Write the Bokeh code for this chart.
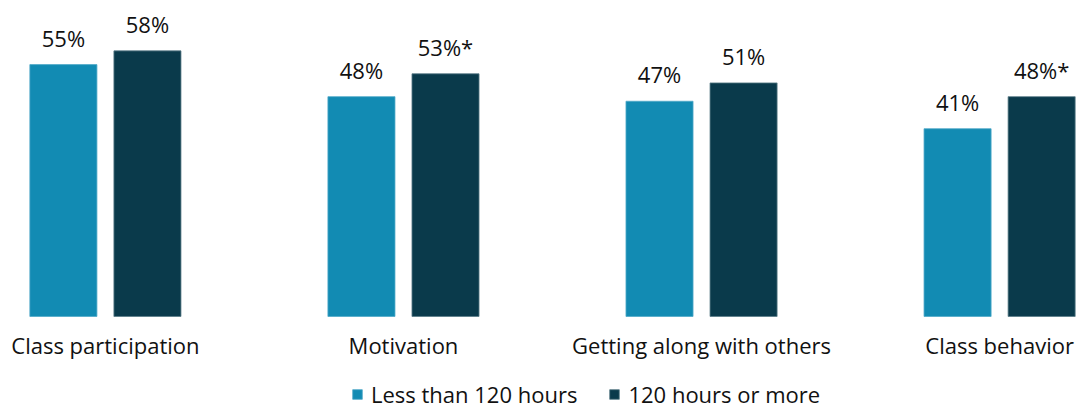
from bokeh.plotting import figure
from bokeh.models import ColumnDataSource, Range1d, Legend, LegendItem
from bokeh.core.properties import value
from bokeh.embed import file_html
from bokeh.resources import INLINE

categories = ["Class participation", "Motivation", "Getting along with others", "Class behavior"]
less_120 = [55, 48, 47, 41]
more_120 = [58, 53, 51, 48]
less_labels = ["55%", "48%", "47%", "41%"]
more_labels = ["58%", "53%*", "51%", "48%*"]
series_names = ["Less than 120 hours", "120 hours or more"]
colors = ["#128BB3", "#0A3A4B"]

FONT = "Open Sans"
W, H = 1076, 408

x = list(range(len(categories)))
off = 0.141
bw = 0.225

p = figure(width=W, height=H, output_backend="svg", toolbar_location=None,
           x_range=Range1d(-0.352, 3.258), y_range=Range1d(-20.1, 69.0),
           min_border=0, min_border_left=0, min_border_right=0,
           min_border_top=0, min_border_bottom=0)
p.axis.visible = False
p.grid.visible = False
p.outline_line_color = None
p.background_fill_color = "white"

src1 = ColumnDataSource(dict(x=[v - off for v in x], top=less_120, lab=less_labels))
src2 = ColumnDataSource(dict(x=[v + off for v in x], top=more_120, lab=more_labels))

r1 = p.vbar(x="x", top="top", bottom=0, width=bw, source=src1,
            fill_color=colors[0], line_color="#4FA8C8", line_width=0.8)
r2 = p.vbar(x="x", top="top", bottom=0, width=bw, source=src2,
            fill_color=colors[1], line_color="#5A7C88", line_width=0.8)

for s in (src1, src2):
    p.text(x="x", y="top", text="lab", source=s, text_align="center",
           text_baseline="bottom", y_offset=-12, text_font=value(FONT),
           text_font_size="22px", text_color="#111111")

csrc = ColumnDataSource(dict(x=x, y=[0] * len(x), t=categories))
p.text(x="x", y="y", text="t", source=csrc, text_align="center",
       text_baseline="middle", y_offset=29, text_font=value(FONT),
       text_font_size="22px", text_color="#111111")

legend = Legend(items=[LegendItem(label=series_names[0], renderers=[r1]),
                       LegendItem(label=series_names[1], renderers=[r2])],
                orientation="horizontal", location=(351, -1),
                glyph_width=12, glyph_height=12, label_standoff=8, spacing=31,
                padding=0, margin=0, border_line_color=None,
                background_fill_alpha=0,
                label_text_font=FONT, label_text_font_size="22px",
                label_text_color="#111111")
p.add_layout(legend, "center")

open("out.html", "w").write(file_html(p, INLINE))
